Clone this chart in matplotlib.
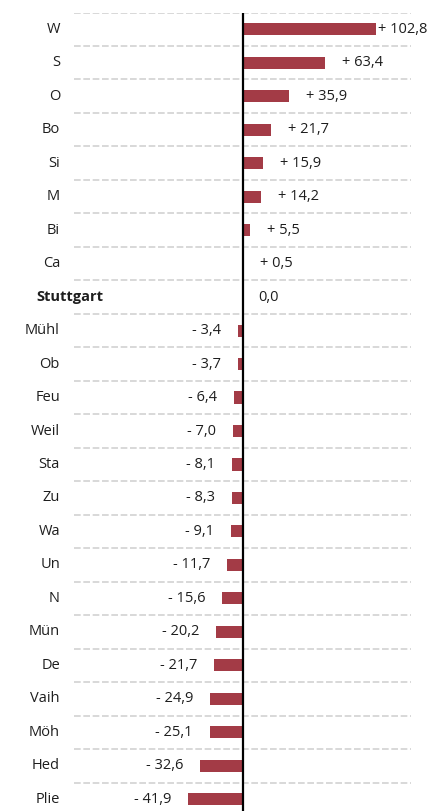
import matplotlib
matplotlib.use("Agg")
import matplotlib.pyplot as plt
from matplotlib.transforms import blended_transform_factory

plt.rcParams['font.family'] = ['Open Sans', 'DejaVu Sans']

categories = ["W", "S", "O", "Bo", "Si", "M", "Bi", "Ca", "Stuttgart",
              "Mühl", "Ob", "Feu", "Weil", "Sta", "Zu", "Wa", "Un", "N",
              "Mün", "De", "Vaih", "Möh", "Hed", "Plie"]
values = [102.8, 63.4, 35.9, 21.7, 15.9, 14.2, 5.5, 0.5, 0.0,
          -3.4, -3.7, -6.4, -7.0, -8.1, -8.3, -9.1, -11.7, -15.6,
          -20.2, -21.7, -24.9, -25.1, -32.6, -41.9]
highlight = "Stuttgart"

W, H = 445, 811
fig = plt.figure(figsize=(W / 100, H / 100), dpi=100)

# axes spans the dashed grid area horizontally; rows are ~33.5 px apart
ax_left, ax_right = 74, 411
ax_top, ax_bottom = 12.5, 811
ax = fig.add_axes([ax_left / W, 1 - ax_bottom / H,
                   (ax_right - ax_left) / W, (ax_bottom - ax_top) / H])

x_min, x_max = -130.0, 130.0
ax.set_xlim(x_min, x_max)
n = len(categories)
ax.set_ylim(23.35, -0.5)
ax.axis('off')

bar_color = "#A33B46"
text_color = "#1e1e1e"
fs = 10.5
ypos = list(range(n))
ax.barh(ypos, values, height=0.36, color=bar_color, zorder=2)

# dashed separators between rows
for k in range(n):
    ax.axhline(k - 0.5, color="#d2d2d2", lw=1.2, linestyle=(0, (4, 1.6)), zorder=1)

# zero line
ax.axvline(0, color="black", lw=1.6, zorder=3)

# value labels
gap = 13.2
cap = 104.6
for y, v in zip(ypos, values):
    s = f"{abs(v):.1f}".replace(".", ",")
    if v > 0:
        ax.text(min(v + gap, cap), y, "+ " + s, ha="left", va="center",
                fontsize=fs, color=text_color)
    elif v < 0:
        ax.text(v - gap, y, "- " + s, ha="right", va="center",
                fontsize=fs, color=text_color)
    else:
        ax.text(v + 12.3, y, s, ha="left", va="center",
                fontsize=fs, color=text_color)

# category labels
trans = blended_transform_factory(fig.transFigure, ax.transData)
for y, c in zip(ypos, categories):
    if c == highlight:
        t = fig.text(36 / W, 0, c, transform=trans, ha="left", va="center",
                     fontsize=fs, fontweight="bold", color=text_color)
    else:
        t = fig.text(60 / W, 0, c, transform=trans, ha="right", va="center",
                     fontsize=fs, color=text_color)
    t.set_y(y)

fig.savefig("out.png", dpi=100)
